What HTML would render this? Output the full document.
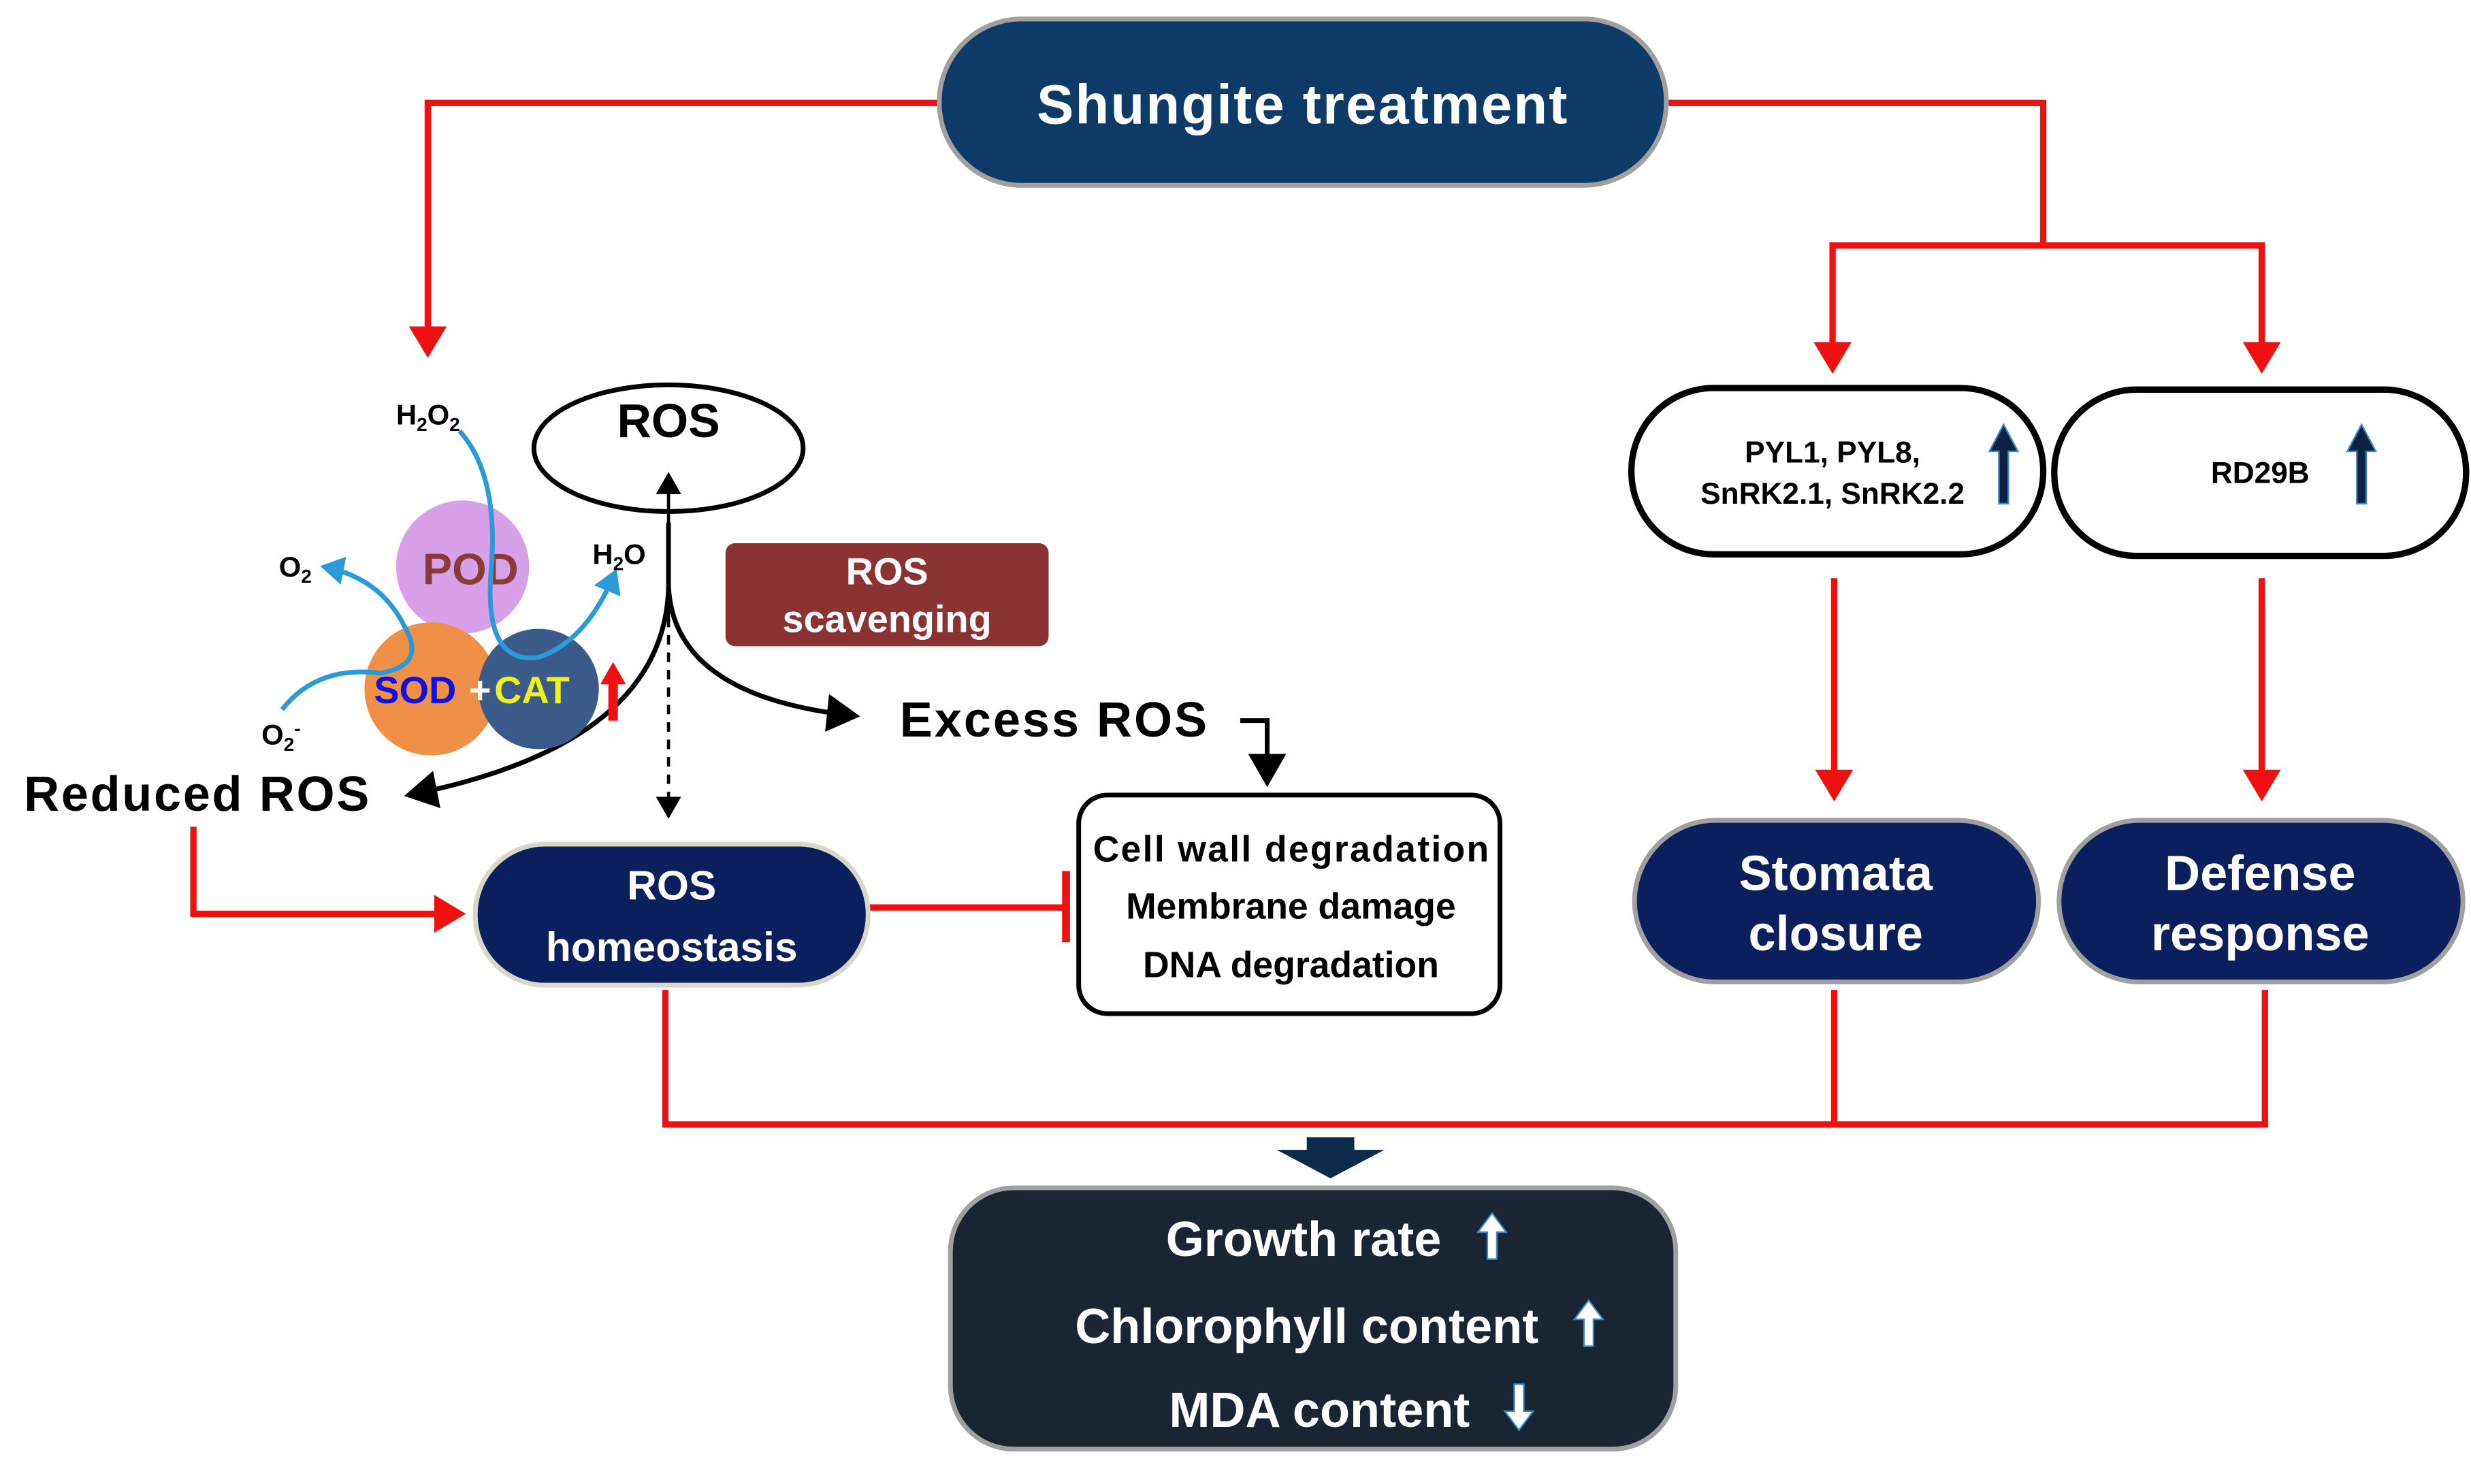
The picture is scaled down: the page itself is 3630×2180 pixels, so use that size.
<!DOCTYPE html>
<html><head><meta charset="utf-8"><style>
html,body{margin:0;padding:0;background:#fff}
svg{display:block}
text{font-family:"Liberation Sans",sans-serif;font-weight:bold}
</style></head><body>
<svg width="3630" height="2180" viewBox="0 0 1560 937" xmlns="http://www.w3.org/2000/svg">
<defs>
<marker id="ra" markerWidth="6" markerHeight="6" refX="4" refY="3" orient="auto" markerUnits="strokeWidth"><path d="M0,0 L5,3 L0,6 z" fill="#f01010"/></marker>
<marker id="ba" markerWidth="8" markerHeight="8" refX="6" refY="4" orient="auto" markerUnits="strokeWidth"><path d="M0,0 L7,4 L0,8 z" fill="#000"/></marker>
<marker id="bl" markerWidth="6" markerHeight="6" refX="4" refY="3" orient="auto" markerUnits="strokeWidth"><path d="M0,0 L5,3 L0,6 z" fill="#2a9ad8"/></marker>
</defs>
<g fill="none" stroke="#f01010" stroke-width="4">
<path d="M593,65 H270 V222" marker-end="url(#ra)"/>
<path d="M1052,65 H1290 V155"/>
<path d="M1155,155 H1430"/>
<path d="M1157,155 V232" marker-end="url(#ra)"/>
<path d="M1428,155 V232" marker-end="url(#ra)"/>
<path d="M1158,365 V502" marker-end="url(#ra)"/>
<path d="M1428,365 V502" marker-end="url(#ra)"/>
<path d="M420,625 V710 H1430 V625"/>
<path d="M1158,625 V710"/>
<path d="M122,522 V577 H290" marker-end="url(#ra)"/>
<path d="M548,573 H673"/>
<path d="M673,550 V595" stroke-width="5"/>
</g>
<rect x="593" y="12" width="459" height="105" rx="52" fill="#0d3a66" stroke="#a0a0a0" stroke-width="3"/>
<text x="822" y="78" font-size="35" fill="#fff" text-anchor="middle" textLength="335">Shungite treatment</text>
<rect x="1030" y="245" width="260" height="105" rx="52" fill="#fff" stroke="#000" stroke-width="4"/>
<text x="1157" y="292" font-size="19" text-anchor="middle">PYL1, PYL8,</text>
<text x="1157" y="318" font-size="19" text-anchor="middle">SnRK2.1, SnRK2.2</text>
<path d="M1262,318 V285 H1256 L1265,268 L1274,285 H1268 V318 z" fill="#0d2240" stroke="#3a8ac8" stroke-width="1"/>
<rect x="1297" y="246" width="260" height="105" rx="52" fill="#fff" stroke="#000" stroke-width="4"/>
<text x="1427" y="305" font-size="19" text-anchor="middle">RD29B</text>
<path d="M1488,318 V285 H1482 L1491,268 L1500,285 H1494 V318 z" fill="#0d2240" stroke="#3a8ac8" stroke-width="1"/>
<rect x="1032" y="518" width="255" height="102" rx="51" fill="#0a1f5c" stroke="#a0a0a0" stroke-width="3"/>
<text x="1159" y="562" font-size="31" fill="#fff" text-anchor="middle">Stomata</text>
<text x="1159" y="600" font-size="31" fill="#fff" text-anchor="middle">closure</text>
<rect x="1300" y="518" width="255" height="102" rx="51" fill="#0a1f5c" stroke="#a0a0a0" stroke-width="3"/>
<text x="1427" y="562" font-size="31" fill="#fff" text-anchor="middle">Defense</text>
<text x="1427" y="600" font-size="31" fill="#fff" text-anchor="middle">response</text>
<path d="M825,718 H855 V726 H874 L840,744 L806,726 H825 z" fill="#0d2a4a"/>
<rect x="600" y="750" width="458" height="165" rx="40" fill="#1a2533" stroke="#a0a0a0" stroke-width="3"/>
<text x="823" y="793" font-size="31" fill="#fff" text-anchor="middle">Growth rate</text>
<path d="M939,795 V778 H933 L942,766 L951,778 H945 V795 z" fill="#fff" stroke="#3a8ac8"/>
<text x="825" y="848" font-size="31" fill="#fff" text-anchor="middle">Chlorophyll content</text>
<path d="M1000,850 V833 H994 L1003,821 L1012,833 H1006 V850 z" fill="#fff" stroke="#3a8ac8"/>
<text x="833" y="901" font-size="31" fill="#fff" text-anchor="middle">MDA content</text>
<path d="M956,874 V891 H950 L959,903 L968,891 H962 V874 z" fill="#fff" stroke="#3a8ac8"/>
<ellipse cx="422" cy="283" rx="85" ry="40" fill="#fff" stroke="#000" stroke-width="3"/>
<text x="422" y="276" font-size="30" text-anchor="middle">ROS</text>
<g fill="none" stroke="#000" stroke-width="3">
<path d="M422,392 V300" stroke-width="2" marker-end="url(#ba)"/>
<path d="M422,330 V370 Q425,440 540,452" marker-end="url(#ba)"/>
<path d="M422,370 Q420,470 258,502" marker-end="url(#ba)"/>
<path d="M422,390 V515" stroke-width="2" stroke-dasharray="6,5" marker-end="url(#ba)"/>
<path d="M783,455 H800 V494" marker-end="url(#ba)"/>
</g>
<rect x="458" y="343" width="204" height="65" rx="6" fill="#8b3333"/>
<text x="560" y="369" font-size="24" fill="#fff" text-anchor="middle">ROS</text>
<text x="560" y="399" font-size="24" fill="#fff" text-anchor="middle">scavenging</text>
<text x="568" y="465" font-size="31" textLength="194">Excess ROS</text>
<rect x="681" y="502" width="266" height="138" rx="18" fill="#fff" stroke="#000" stroke-width="3"/>
<text x="815" y="544" font-size="23" text-anchor="middle" textLength="250">Cell wall degradation</text>
<text x="815" y="580" font-size="23" text-anchor="middle">Membrane damage</text>
<text x="815" y="617" font-size="23" text-anchor="middle">DNA degradation</text>
<text x="15" y="512" font-size="31" textLength="218">Reduced ROS</text>
<rect x="300" y="533" width="248" height="89" rx="44" fill="#0a1f5c" stroke="#d8d8c8" stroke-width="3"/>
<text x="424" y="568" font-size="26" fill="#fff" text-anchor="middle">ROS</text>
<text x="424" y="607" font-size="26" fill="#fff" text-anchor="middle">homeostasis</text>
<circle cx="292" cy="358" r="42" fill="#d9a0ea"/>
<text x="297" y="369" font-size="28" fill="#8b3a3a" text-anchor="middle">POD</text>
<circle cx="272" cy="435" r="42" fill="#f09048"/>
<circle cx="340" cy="435" r="38" fill="#3a5a8a"/>
<text x="236" y="444" font-size="24" fill="#1010e0">SOD</text>
<text x="296" y="444" font-size="24" fill="#fff">+</text>
<text x="312" y="444" font-size="24" fill="#f0f020">CAT</text>
<path d="M384,455 V432 H379 L387,418 L395,432 H390 V455 z" fill="#f01010"/>
<g fill="none" stroke="#2a9ad8" stroke-width="3">
<path d="M290,272 Q315,300 310,360 Q305,420 340,415 Q370,405 388,362" marker-end="url(#bl)"/>
<path d="M178,448 Q200,420 240,425 Q270,420 255,395 Q240,365 205,358" marker-end="url(#bl)"/>
</g>
<text x="250" y="268" font-size="18">H<tspan font-size="12" dy="4">2</tspan><tspan dy="-4">O</tspan><tspan font-size="12" dy="4">2</tspan></text>
<text x="374" y="356" font-size="18">H<tspan font-size="12" dy="4">2</tspan><tspan dy="-4">O</tspan></text>
<text x="176" y="364" font-size="18">O<tspan font-size="12" dy="4">2</tspan></text>
<text x="165" y="470" font-size="18">O<tspan font-size="12" dy="4">2</tspan><tspan font-size="12" dy="-10">-</tspan></text>
</svg>
</body></html>
